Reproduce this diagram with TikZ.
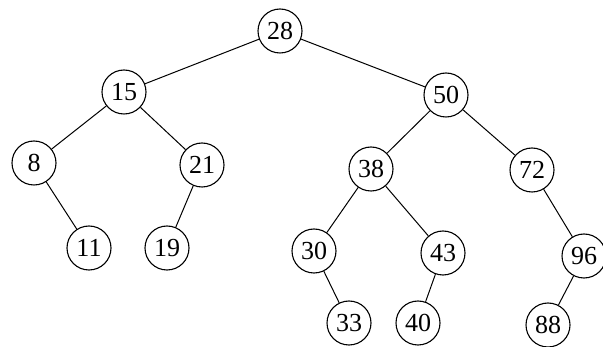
\documentclass[tikz,border=0pt]{standalone}
\usepackage{fontspec}
\setmainfont{Liberation Serif}
\begin{document}
\begin{tikzpicture}[x=1pt,y=-1pt,
  key/.style={circle,draw,line width=1.1pt,minimum size=44pt,inner sep=0pt,
    font=\fontsize{26}{26}\selectfont},
  edge/.style={line width=1pt}]
\useasboundingbox (0,0) rectangle (603,347);
% keys of the search tree
\node[key] (n28) at (280,31) {28};
\node[key] (n15) at (124,92) {15};
\node[key] (n50) at (446,95) {50};
\node[key] (n8)  at (34,163) {8};
\node[key] (n21) at (202,165) {21};
\node[key] (n38) at (371,169) {38};
\node[key] (n72) at (532,170) {72};
\node[key] (n11) at (89,248) {11};
\node[key] (n19) at (167,248) {19};
\node[key] (n30) at (314,251) {30};
\node[key] (n43) at (443,253) {43};
\node[key] (n96) at (584,256) {96};
\node[key] (n33) at (349,323) {33};
\node[key] (n40) at (418,323) {40};
\node[key] (n88) at (548,325) {88};
% parent-child links
\draw[edge] (n28) -- (n15);
\draw[edge] (n28) -- (n50);
\draw[edge] (n15) -- (n8);
\draw[edge] (n15) -- (n21);
\draw[edge] (n50) -- (n38);
\draw[edge] (n50) -- (n72);
\draw[edge] (n8) -- (n11);
\draw[edge] (n21) -- (n19);
\draw[edge] (n38) -- (n30);
\draw[edge] (n38) -- (n43);
\draw[edge] (n72) -- (n96);
\draw[edge] (n30) -- (n33);
\draw[edge] (n43) -- (n40);
\draw[edge] (n96) -- (n88);
\end{tikzpicture}
\end{document}
